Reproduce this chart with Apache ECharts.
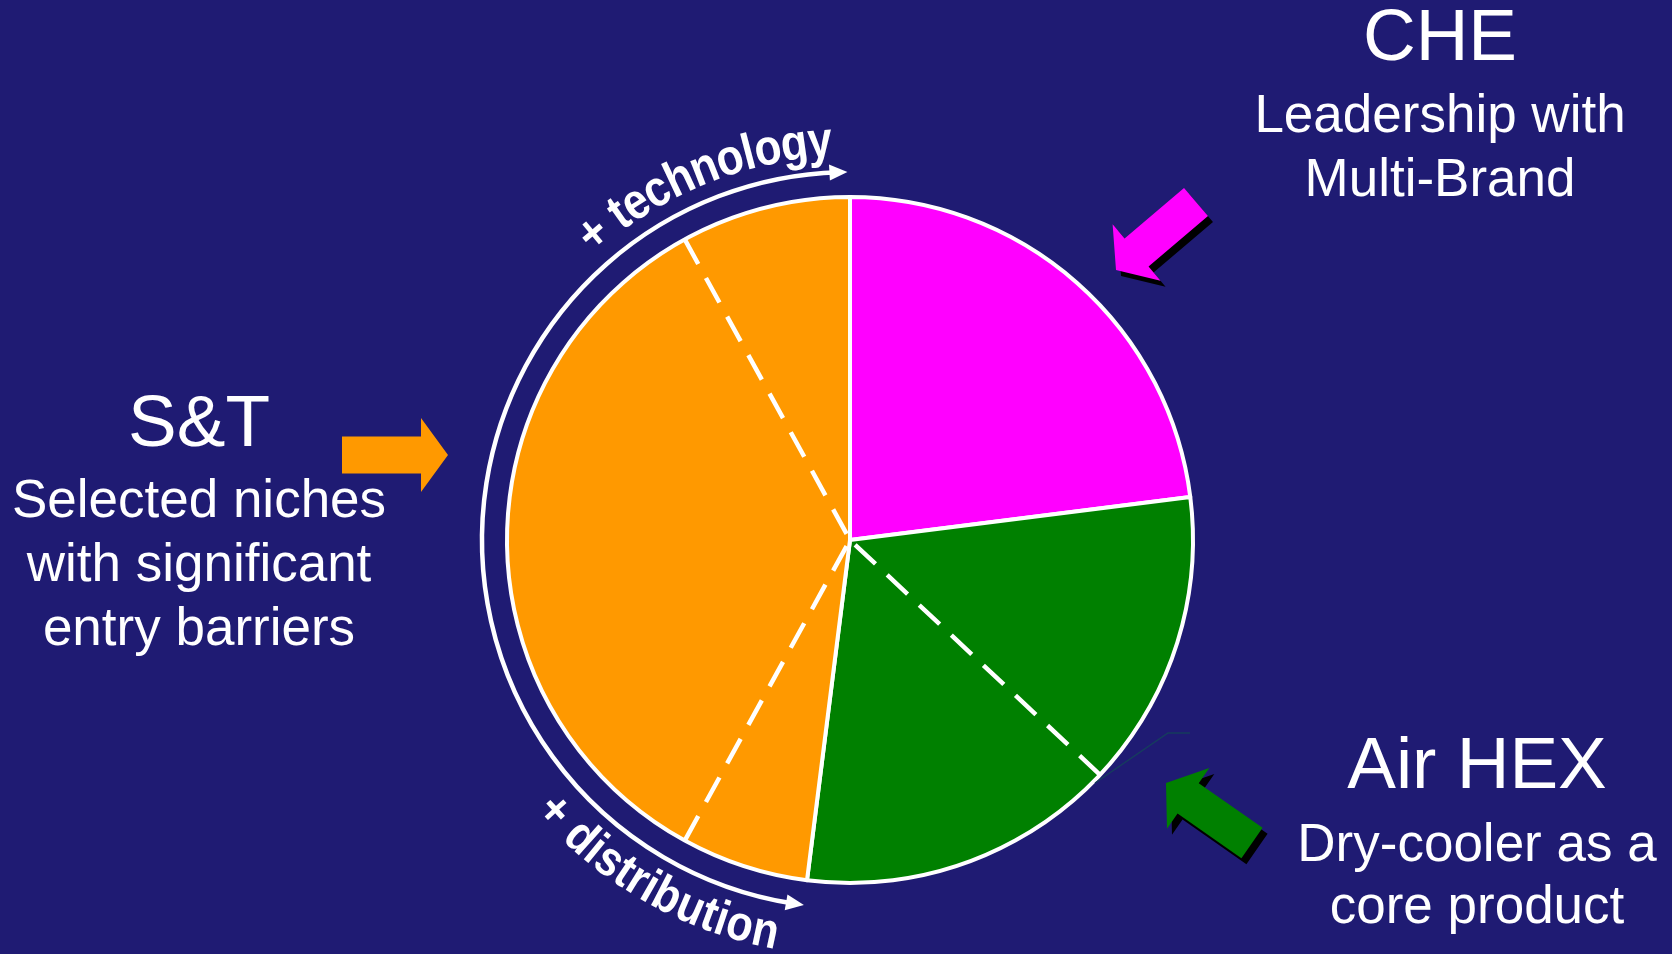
<!DOCTYPE html>
<html>
<head>
<meta charset="utf-8">
<script src="https://cdn.jsdelivr.net/npm/echarts@6/dist/echarts.min.js"></script>
<style>
  html, body { margin: 0; padding: 0; background: #1F1B73; }
  #chart { width: 1672px; height: 954px; }
</style>
</head>
<body>
<div id="chart"></div>
<script>
// Business segments and their share of the portfolio (percent)
const segmentNames = ['CHE', 'Air HEX', 'S&T'];
const segmentShares = [23, 29, 48];
const segmentColors = ['#FF00FF', '#008000', '#FF9900'];
// Sub-divisions inside each segment (percent), drawn as dashed dividers
const segmentParts = [[23], [14, 15], [6, 34, 8]];
// Segment headlines and descriptions
const segmentTitles = ['CHE', 'Air HEX', 'S&T'];
const segmentNotes = [
  ['Leadership with', 'Multi-Brand'],
  ['Dry-cooler as a', 'core product'],
  ['Selected niches', 'with significant', 'entry barriers']
];
// Captions along the ring around S&T
const ringCaptions = ['+ technology', '+ distribution'];

// ---- layout ----
const CX = 850, CY = 540, R = 343;
const RING_R = 368;
const BG = '#1F1B73';
const FONT = '"Liberation Sans", Arial, sans-serif';

const chart = echarts.init(document.getElementById('chart'), null, { renderer: 'canvas' });

// cumulative start of each segment
const segStart = [];
let acc = 0;
segmentShares.forEach(v => { segStart.push(acc); acc += v; });
const total = acc;

// divider positions inside segments
const dividerAngles = [];
segmentParts.forEach((parts, i) => {
  let a = segStart[i];
  parts.slice(0, -1).forEach(p => { a += p; dividerAngles.push(a); });
});

// dashed dividers, drawn from the rim towards the centre
const dividerSeries = dividerAngles.map(a => ({
  type: 'line',
  coordinateSystem: 'polar',
  data: [[1, a], [0, a]],
  symbol: 'none',
  silent: true,
  z: 5,
  lineStyle: { color: '#ffffff', width: 4.5, type: [28, 16], cap: 'butt' }
}));

// screen angle (radians, zrender convention) for a share position
const shareToScreen = p => p / total * Math.PI * 2 - Math.PI / 2;
const shareToDeg = p => p / total * 360;
const pt = (deg, r) => {
  const rad = deg * Math.PI / 180;
  return [CX + r * Math.sin(rad), CY - r * Math.cos(rad)];
};

// ---- ring with arrowheads around S&T ----
const ringSeg = 2;
const ringFrom = segStart[ringSeg], ringTo = segStart[ringSeg] + segmentShares[ringSeg];
const headL = 18, headHalf = 8;
const headDeg = headL / RING_R * 180 / Math.PI;
const graphics = [];

graphics.push({
  type: 'arc', silent: true, z: 8,
  shape: {
    cx: CX, cy: CY, r: RING_R,
    startAngle: shareToScreen(ringFrom) + headL * 0.6 / RING_R,
    endAngle: shareToScreen(ringTo) - headL * 0.6 / RING_R,
    clockwise: true
  },
  style: { stroke: '#ffffff', lineWidth: 4.5, fill: null }
});

function ringHead(tipDeg, dir) {
  const baseDeg = tipDeg - dir * headDeg;
  return {
    type: 'polygon', silent: true, z: 8,
    shape: { points: [pt(tipDeg, RING_R), pt(baseDeg, RING_R + headHalf), pt(baseDeg, RING_R - headHalf)] },
    style: { fill: '#ffffff' }
  };
}
graphics.push(ringHead(shareToDeg(ringTo) - 0.4, 1));
graphics.push(ringHead(shareToDeg(ringFrom), -1));

// ---- text along the ring (glyphs slightly stretched vertically) ----
const measureCtx = document.createElement('canvas').getContext('2d');
function curvedText(str, midDeg, radius, font, outward, stretch) {
  measureCtx.font = font;
  const chars = [...str];
  const widths = chars.map(ch => measureCtx.measureText(ch).width);
  const totalW = widths.reduce((s, w) => s + w, 0);
  let off = 0;
  chars.forEach((ch, i) => {
    const c = off + widths[i] / 2;
    off += widths[i];
    if (ch === ' ') return;
    const dDeg = (c - totalW / 2) / radius * 180 / Math.PI;
    const deg = outward ? midDeg + dDeg : midDeg - dDeg;
    const rad = deg * Math.PI / 180;
    const [x, y] = pt(deg, radius);
    graphics.push({
      type: 'text', x, y, silent: true, z: 10,
      rotation: outward ? -rad : Math.PI - rad,
      scaleY: stretch,
      style: {
        text: ch, font, fill: '#ffffff',
        align: 'center', verticalAlign: 'middle',
        textAlign: 'center', textVerticalAlign: 'middle'
      }
    });
  });
}
curvedText(ringCaptions[0], 337.8, 398, 'bold 44px ' + FONT, true, 1.15);
curvedText(ringCaptions[1], 209.8, 402, 'bold 43px ' + FONT, false, 1.15);

// ---- block arrows pointing at the segments ----
const arrows = [
  { seg: 0, tail: [1196, 202], tip: [1116, 270], shadow: true },
  { seg: 1, tail: [1252, 843], tip: [1166, 783], shadow: true },
  { seg: 2, tail: [342, 455], tip: [448, 455], shadow: false }
];
function blockArrow(tail, tip, shaftW, headW, hl) {
  const dx = tip[0] - tail[0], dy = tip[1] - tail[1];
  const len = Math.hypot(dx, dy);
  const ux = dx / len, uy = dy / len, nx = -uy, ny = ux;
  const neck = [tip[0] - ux * hl, tip[1] - uy * hl];
  const p = (b, s) => [b[0] + nx * s, b[1] + ny * s];
  return [p(tail, shaftW / 2), p(neck, shaftW / 2), p(neck, headW / 2), tip,
          p(neck, -headW / 2), p(neck, -shaftW / 2), p(tail, -shaftW / 2)];
}
arrows.forEach(a => {
  const pts = blockArrow(a.tail, a.tip, 37, 74, 27);
  if (a.shadow) {
    graphics.push({
      type: 'polygon', silent: true, z: 6,
      shape: { points: pts.map(q => [q[0] + 5, q[1] + 6]) },
      style: { fill: '#000000' }
    });
  }
  graphics.push({
    type: 'polygon', silent: true, z: 7,
    shape: { points: pts },
    style: { fill: segmentColors[a.seg] }
  });
});

// faint leader line near Air HEX
graphics.push({
  type: 'polyline', silent: true, z: 9,
  shape: { points: [[1095, 783], [1168, 733], [1190, 733]] },
  style: { stroke: '#163d5e', lineWidth: 1.5, fill: null }
});

// ---- headlines and descriptions ----
const textBlocks = [
  { seg: 0, x: 1440, titleY: 40, lineY: [117, 181] },
  { seg: 1, x: 1477, titleY: 768, lineY: [846, 908] },
  { seg: 2, x: 199, titleY: 426, lineY: [502, 566, 630] }
];
function label(text, x, y, size) {
  graphics.push({
    type: 'text', x, y, silent: true, z: 10,
    style: {
      text, font: size + 'px ' + FONT, fill: '#ffffff',
      align: 'center', verticalAlign: 'middle',
      textAlign: 'center', textVerticalAlign: 'middle'
    }
  });
}
textBlocks.forEach(b => {
  label(segmentTitles[b.seg], b.x, b.titleY, 73);
  segmentNotes[b.seg].forEach((t, i) => label(t, b.x, b.lineY[i], 53));
});

chart.setOption({
  backgroundColor: BG,
  animation: false,
  polar: { center: [CX, CY], radius: R },
  angleAxis: {
    type: 'value', min: 0, max: total, startAngle: 90, clockwise: true,
    show: false, axisLine: { show: false }, axisTick: { show: false },
    axisLabel: { show: false }, splitLine: { show: false }
  },
  radiusAxis: {
    type: 'value', min: 0, max: 1, show: false,
    axisLine: { show: false }, axisTick: { show: false },
    axisLabel: { show: false }, splitLine: { show: false }
  },
  series: [
    {
      type: 'pie',
      center: [CX, CY],
      radius: R,
      startAngle: 90,
      clockwise: true,
      silent: true,
      z: 2,
      label: { show: false },
      labelLine: { show: false },
      emphasis: { disabled: true },
      itemStyle: { borderColor: '#ffffff', borderWidth: 4 },
      data: segmentNames.map((n, i) => ({
        name: n, value: segmentShares[i], itemStyle: { color: segmentColors[i] }
      }))
    },
    ...dividerSeries
  ],
  graphic: { elements: graphics }
});
</script>
</body>
</html>
